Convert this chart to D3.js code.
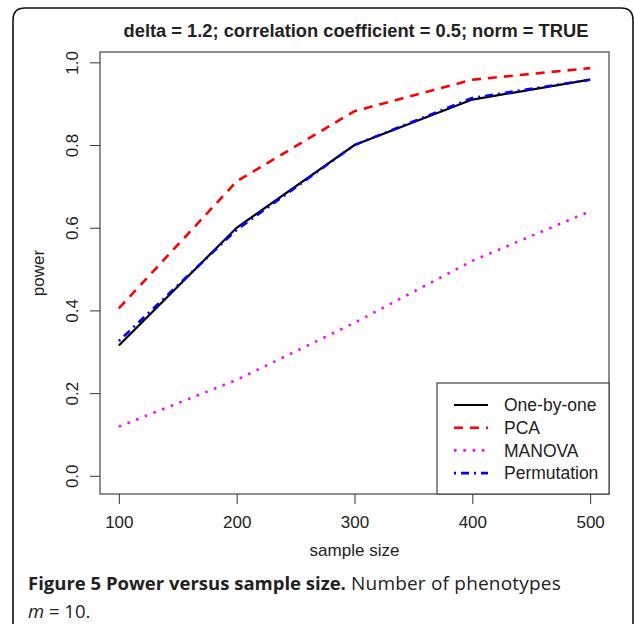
<!doctype html>
<html>
<head>
  <meta charset="utf-8">
  <script src="https://cdnjs.cloudflare.com/ajax/libs/d3/7.8.5/d3.min.js"></script>
  <style>
    body { margin: 0; background: white; }
    svg text { fill: #222; }
  </style>
</head>
<body>
  <script>
    // data
    const sampleSizes = [100, 200, 300, 400, 500];
    const oneByOne    = [0.315, 0.600, 0.800, 0.910, 0.958];
    const pca         = [0.405, 0.712, 0.882, 0.958, 0.986];
    const manova      = [0.119, 0.232, 0.370, 0.520, 0.640];
    const permutation = [0.326, 0.595, 0.800, 0.914, 0.958];
    const seriesNames = ['One-by-one', 'PCA', 'MANOVA', 'Permutation'];
    const xTicks = [100, 200, 300, 400, 500];
    const yTicks = [0.0, 0.2, 0.4, 0.6, 0.8, 1.0];

    const series = [
      {name: seriesNames[0], values: oneByOne,    color: '#000000', dash: null,        w: 2.2},
      {name: seriesNames[1], values: pca,         color: '#ff0000', dash: '9 7',       w: 2.6},
      {name: seriesNames[2], values: manova,      color: '#ff00ff', dash: '2.5 6.8',   w: 2.6},
      {name: seriesNames[3], values: permutation, color: '#0000ff', dash: '2 5 8 5',   w: 2.6}
    ];

    const width = 634, height = 624;
    const box = {left: 100, right: 609, top: 52, bottom: 494};
    const tickLen = 10;

    const svg = d3.select('body').append('svg')
      .attr('width', width)
      .attr('height', height);

    // outer figure frame
    svg.append('path')
      .attr('d', 'M13,640 L13,20 Q13,8 25,8 L621,8 Q633,8 633,20 L633,640')
      .attr('fill', 'none')
      .attr('stroke', '#111')
      .attr('stroke-width', 1.6);

    const x = d3.scaleLinear().domain([84, 516]).range([box.left, box.right]);
    const y = d3.scaleLinear().domain([-0.044, 1.025]).range([box.bottom, box.top]);

    const font = 'Liberation Sans, Arial, sans-serif';

    // title
    svg.append('text')
      .attr('x', 356).attr('y', 37)
      .attr('text-anchor', 'middle')
      .style('font-family', font)
      .style('font-weight', 'bold')
      .style('font-size', '18.3px')
      .text('delta = 1.2; correlation coefficient = 0.5; norm = TRUE');

    // axes
    const xAxis = svg.append('g')
      .attr('transform', `translate(0,${box.bottom})`)
      .call(d3.axisBottom(x).tickValues(xTicks).tickSize(tickLen).tickFormat(d3.format('d')));
    xAxis.select('.domain').remove();
    xAxis.selectAll('line').attr('stroke', '#333');
    xAxis.selectAll('text')
      .attr('y', 34)
      .attr('dy', 0)
      .style('font-family', font)
      .style('font-size', '17px')
      .attr('fill', '#222');

    const yAxis = svg.append('g')
      .attr('transform', `translate(${box.left},0)`)
      .call(d3.axisLeft(y).tickValues(yTicks).tickSize(tickLen).tickFormat(d3.format('.1f')));
    yAxis.select('.domain').remove();
    yAxis.selectAll('line').attr('stroke', '#333');
    yAxis.selectAll('text')
      .attr('transform', 'rotate(-90)')
      .attr('x', 0)
      .attr('y', -22)
      .attr('dy', 0)
      .attr('text-anchor', 'middle')
      .style('font-family', font)
      .style('font-size', '17px')
      .attr('fill', '#222');

    // axis titles
    svg.append('text')
      .attr('x', (box.left + box.right) / 2).attr('y', 556)
      .attr('text-anchor', 'middle')
      .style('font-family', font)
      .style('font-size', '17px')
      .text('sample size');

    svg.append('text')
      .attr('transform', `translate(44,${(box.top + box.bottom) / 2}) rotate(-90)`)
      .attr('text-anchor', 'middle')
      .style('font-family', font)
      .style('font-size', '17px')
      .text('power');

    // plot box
    svg.append('rect')
      .attr('x', box.left).attr('y', box.top)
      .attr('width', box.right - box.left).attr('height', box.bottom - box.top)
      .attr('fill', 'none')
      .attr('stroke', '#444')
      .attr('stroke-width', 1.2);

    // lines
    const line = d3.line()
      .x((d, i) => x(sampleSizes[i]))
      .y(d => y(d));

    svg.append('g').selectAll('path')
      .data(series)
      .join('path')
      .attr('d', d => line(d.values))
      .attr('fill', 'none')
      .attr('stroke', d => d.color)
      .attr('stroke-width', d => d.w)
      .attr('stroke-dasharray', d => d.dash);

    // legend
    const leg = {left: 437, top: 383};
    svg.append('rect')
      .attr('x', leg.left).attr('y', leg.top)
      .attr('width', box.right - leg.left).attr('height', box.bottom - leg.top)
      .attr('fill', 'white')
      .attr('stroke', '#444')
      .attr('stroke-width', 1.2);

    const rows = svg.append('g').selectAll('g')
      .data(series)
      .join('g')
      .attr('transform', (d, i) => `translate(0,${405 + i * 22.7})`);
    rows.append('line')
      .attr('x1', 454).attr('x2', 488)
      .attr('stroke', d => d.color)
      .attr('stroke-width', d => d.w)
      .attr('stroke-dasharray', d => d.dash);
    rows.append('text')
      .attr('x', 504).attr('dy', '0.36em')
      .style('font-family', font)
      .style('font-size', '17.5px')
      .text(d => d.name);

    // caption
    const cap = svg.append('text')
      .attr('x', 28).attr('y', 590)
      .style('font-family', 'Open Sans, Noto Sans, sans-serif')
      .style('font-size', '18.5px')
      .attr('fill', '#231f20');
    cap.append('tspan').style('font-weight', 'bold').text('Figure 5 Power versus sample size.');
    cap.append('tspan').style('font-size', '19px').style('letter-spacing', '0.2px').text(' Number of phenotypes');

    const cap2 = svg.append('text')
      .attr('x', 28).attr('y', 618)
      .style('font-family', 'Open Sans, Noto Sans, sans-serif')
      .style('font-size', '18.5px')
      .attr('fill', '#231f20');
    cap2.append('tspan').style('font-style', 'italic').text('m');
    cap2.append('tspan').text(' = 10.');
  </script>
</body>
</html>
